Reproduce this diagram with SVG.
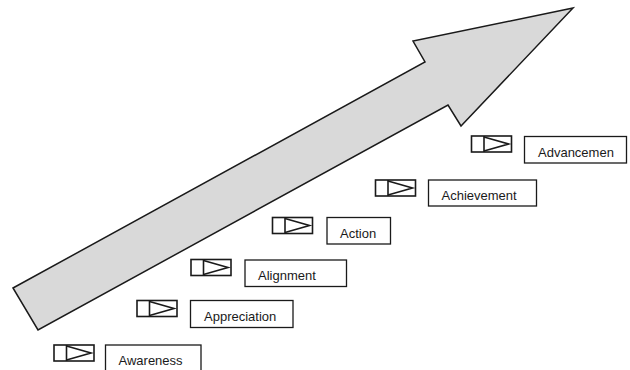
<svg xmlns="http://www.w3.org/2000/svg" width="630" height="370" viewBox="0 0 630 370">
<style>
.arrow{fill:#d9d9d9;stroke:#1a1a1a;stroke-width:1.5;stroke-linejoin:miter}
.icon{fill:#fff;stroke:#1a1a1a;stroke-width:1.6}
.tri{fill:none;stroke:#1a1a1a;stroke-width:1.6;stroke-linejoin:miter}
.box{fill:#fff;stroke:#1a1a1a;stroke-width:1.3}
.lbl{font-family:"Liberation Sans",Arial,sans-serif;font-size:13px;fill:#1a1a1a}
</style>
<defs>
<g id="ic">
<rect class="icon" x="0" y="0" width="40" height="16"/>
<line class="icon" x1="12.5" y1="0" x2="12.5" y2="16"/>
<polyline class="tri" points="12.5,1 37,8 12.5,15"/>
</g>
</defs>
<rect width="630" height="370" fill="#fff"/>
<g id="connectors">
<polygon id="big-arrow" class="arrow" points="13,288 425,62 413,41 573,8 461,126 448,105 38,330"/>
</g>
<g id="awareness">
<use href="#ic" x="54" y="345"/>
<rect class="box" x="105.5" y="345" width="95.5" height="26.5"/>
<text class="lbl" x="118.5" y="365">Awareness</text>
</g>
<g id="appreciation">
<use href="#ic" x="137" y="300.5"/>
<rect class="box" x="190.5" y="300.5" width="102.5" height="27"/>
<text class="lbl" x="204" y="321">Appreciation</text>
</g>
<g id="alignment">
<use href="#ic" x="191" y="259.5"/>
<rect class="box" x="245" y="260" width="101.5" height="26.5"/>
<text class="lbl" x="258" y="280">Alignment</text>
</g>
<g id="action">
<use href="#ic" x="272.5" y="217.5"/>
<rect class="box" x="327" y="217.5" width="63.5" height="26.5"/>
<text class="lbl" x="340" y="237.5">Action</text>
</g>
<g id="achievement">
<use href="#ic" x="375.5" y="180"/>
<rect class="box" x="428.5" y="180" width="108" height="26"/>
<text class="lbl" x="441.5" y="200">Achievement</text>
</g>
<g id="advancement">
<use href="#ic" x="471.5" y="136"/>
<rect class="box" x="524.5" y="136.5" width="102" height="26.5"/>
<text class="lbl" x="538" y="156.5">Advancemen</text>
</g>
</svg>
